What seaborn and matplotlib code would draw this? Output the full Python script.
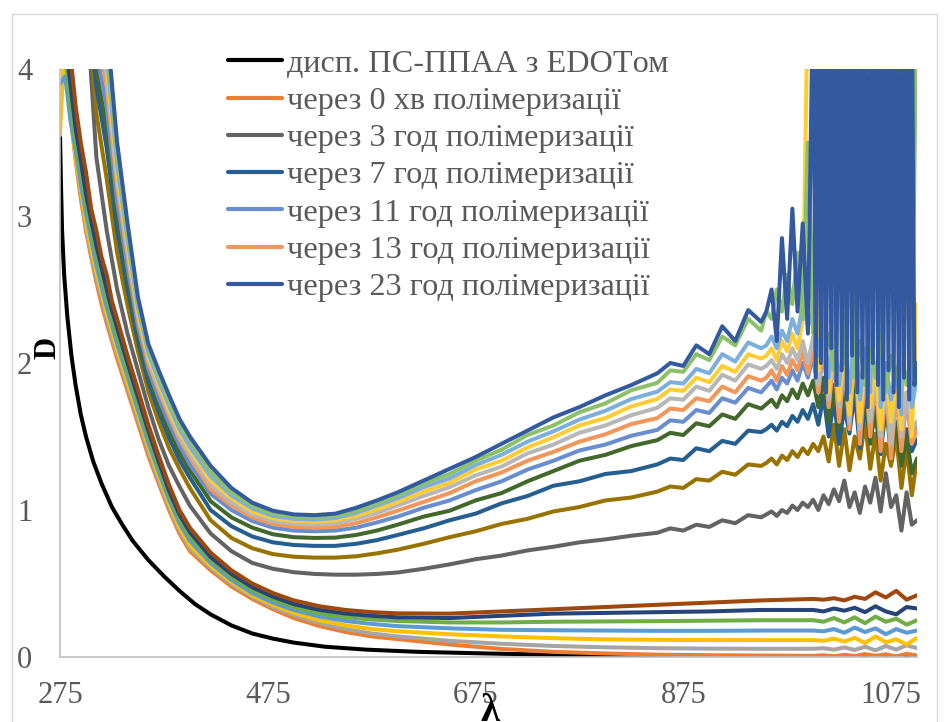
import matplotlib
matplotlib.use("Agg")
import matplotlib.pyplot as plt
import pandas as pd
import seaborn as sns
from matplotlib.lines import Line2D
from matplotlib.patches import Rectangle

sns.set_theme(style="white")
plt.rcParams['font.family'] = ['Liberation Serif', 'DejaVu Serif']

# ---------------- data ----------------
X_BLACK = [275, 276, 277, 279, 282, 286, 290, 295, 300, 307, 315, 325, 335, 345, 360, 375, 390, 405,
           420, 440, 460, 480, 500, 530, 570, 620, 680, 750, 820, 900, 1000, 1100]
D_BLACK = [3.55, 3.2, 2.9, 2.6, 2.32, 2.05, 1.85, 1.65, 1.5, 1.33, 1.18, 1.02, 0.9, 0.79, 0.66, 0.55, 0.45, 0.36,
           0.29, 0.215, 0.16, 0.125, 0.098, 0.07, 0.05, 0.035, 0.025, 0.015, 0.008, 0.004, 0.002, 0.002]

X_LOW = [275, 280, 285, 290, 295, 300, 305, 310, 315, 320, 325, 330, 340, 350, 360, 370, 380, 390, 400,
         420, 440, 460, 480, 500, 525, 550, 575, 600, 650, 700, 750, 800, 850, 900, 950,
         1000, 1010, 1020, 1030, 1040, 1050, 1060, 1070, 1080, 1090, 1100]

D_ORANGE = [4.4, 4.1, 3.7, 3.38, 3.12, 2.9, 2.72, 2.55, 2.4, 2.27, 2.15, 2.03, 1.81, 1.59, 1.37, 1.18, 1.0, 0.84, 0.72,
            0.59, 0.48, 0.395, 0.325, 0.265, 0.21, 0.17, 0.14, 0.122, 0.085, 0.055, 0.035, 0.024, 0.016, 0.012, 0.01,
            0.008, 0.012, 0.005, 0.015, 0.006, 0.02, 0.008, 0.018, 0.004, 0.022, 0.01]
D_GRAY = [4.3, 4.5, 3.85, 3.45, 3.15, 2.92, 2.74, 2.58, 2.44, 2.3, 2.18, 2.06, 1.84, 1.62, 1.4, 1.2, 1.02, 0.86, 0.74,
          0.605, 0.495, 0.41, 0.34, 0.285, 0.23, 0.19, 0.16, 0.14, 0.11, 0.09, 0.075, 0.066, 0.06, 0.057, 0.056,
          0.056, 0.06, 0.05, 0.065, 0.048, 0.07, 0.045, 0.075, 0.05, 0.08, 0.06]
D_GOLD = [3.55, 4.3, 3.7, 3.4, 3.18, 2.96, 2.78, 2.62, 2.48, 2.34, 2.22, 2.09, 1.87, 1.65, 1.43, 1.23, 1.04, 0.88, 0.76,
          0.62, 0.51, 0.42, 0.355, 0.3, 0.25, 0.215, 0.19, 0.175, 0.155, 0.14, 0.128, 0.12, 0.117, 0.115, 0.115,
          0.115, 0.11, 0.125, 0.105, 0.13, 0.095, 0.14, 0.1, 0.12, 0.085, 0.13]
D_LBLUE = [3.9, 3.95, 3.65, 3.45, 3.22, 3.02, 2.84, 2.67, 2.52, 2.38, 2.26, 2.13, 1.91, 1.68, 1.46, 1.26, 1.07, 0.91, 0.79,
           0.64, 0.525, 0.435, 0.37, 0.32, 0.275, 0.245, 0.225, 0.21, 0.195, 0.185, 0.182, 0.18, 0.178, 0.178, 0.18,
           0.18, 0.175, 0.19, 0.165, 0.2, 0.17, 0.195, 0.155, 0.19, 0.165, 0.18]
D_GREEN = [4.3, 4.1, 3.75, 3.5, 3.3, 3.08, 2.9, 2.74, 2.58, 2.44, 2.3, 2.18, 1.95, 1.72, 1.5, 1.29, 1.1, 0.94, 0.82,
           0.66, 0.545, 0.455, 0.39, 0.34, 0.295, 0.27, 0.255, 0.245, 0.235, 0.235, 0.24, 0.242, 0.244, 0.247, 0.25,
           0.25, 0.24, 0.265, 0.235, 0.27, 0.23, 0.275, 0.24, 0.26, 0.22, 0.25]
D_DBLUE = [4.5, 4.2, 3.9, 3.6, 3.38, 3.15, 2.97, 2.8, 2.65, 2.5, 2.36, 2.24, 2.0, 1.77, 1.54, 1.33, 1.13, 0.97, 0.85,
           0.68, 0.565, 0.475, 0.41, 0.36, 0.32, 0.295, 0.28, 0.27, 0.265, 0.28, 0.295, 0.3, 0.305, 0.31, 0.32,
           0.32, 0.31, 0.33, 0.315, 0.335, 0.305, 0.345, 0.31, 0.29, 0.34, 0.33]
D_BROWN = [4.6, 4.4, 4.1, 3.75, 3.5, 3.3, 3.05, 2.9, 2.72, 2.6, 2.42, 2.3, 2.05, 1.82, 1.58, 1.37, 1.17, 1.0, 0.88,
           0.71, 0.59, 0.5, 0.435, 0.385, 0.345, 0.32, 0.305, 0.297, 0.295, 0.31, 0.325, 0.34, 0.355, 0.37, 0.385,
           0.395, 0.39, 0.4, 0.385, 0.41, 0.395, 0.44, 0.405, 0.45, 0.39, 0.42]

X_UP = [300, 310, 320, 330, 340, 350, 360, 370, 380, 390, 400,
        420, 440, 460, 480, 500, 520, 540, 560, 580, 600,
        625, 650, 675, 700, 725, 750, 775, 800, 825,
        850, 862.5, 875, 887.5, 900, 912.5, 925, 937.5, 950,
        955, 960, 965, 970, 975, 980, 985, 990, 995, 1000, 1005, 1010, 1015, 1020, 1025,
        1030, 1035, 1040, 1045, 1050, 1055, 1060, 1065, 1070, 1075, 1080, 1085, 1090, 1095, 1100]

D_DGRAY = [4.5, 3.4, 2.9, 2.5, 2.2, 1.95, 1.7, 1.48, 1.3, 1.16, 1.03,
           0.84, 0.72, 0.64, 0.6, 0.577, 0.565, 0.56, 0.56, 0.565, 0.575,
           0.6, 0.63, 0.665, 0.69, 0.725, 0.75, 0.78, 0.8, 0.825,
           0.845, 0.875, 0.86, 0.9, 0.885, 0.93, 0.91, 0.965, 0.95,
           0.97, 0.99, 0.96, 1.0, 0.98, 1.03, 1.0, 1.05, 1.02, 1.07, 1.0, 1.1, 1.04, 1.14, 1.06,
           1.2, 1.02, 1.12, 0.98, 1.16, 1.05, 1.22, 0.99, 1.25, 1.02, 1.1, 0.86, 1.12, 0.9, 0.93]
D_DGOLD = [4.55, 3.7, 3.25, 2.75, 2.39, 2.08, 1.81, 1.6, 1.42, 1.28, 1.15,
           0.93, 0.81, 0.74, 0.7, 0.682, 0.676, 0.676, 0.685, 0.705, 0.73,
           0.77, 0.815, 0.855, 0.905, 0.94, 0.99, 1.02, 1.065, 1.085,
           1.125, 1.16, 1.15, 1.21, 1.2, 1.26, 1.24, 1.31, 1.3,
           1.32, 1.35, 1.31, 1.37, 1.34, 1.4, 1.36, 1.42, 1.38, 1.45, 1.4, 1.5, 1.33, 1.58, 1.3,
           1.55, 1.27, 1.5, 1.35, 1.6, 1.28, 1.52, 1.2, 1.45, 1.3, 1.5, 1.15, 1.42, 1.1, 1.35]
D_DLBLUE = [4.58, 3.88, 3.46, 2.9, 2.5, 2.15, 1.87, 1.67, 1.49, 1.34, 1.22,
            1.0, 0.89, 0.82, 0.78, 0.762, 0.756, 0.756, 0.77, 0.795, 0.83,
            0.875, 0.93, 0.975, 1.045, 1.095, 1.165, 1.195, 1.245, 1.265,
            1.31, 1.35, 1.34, 1.42, 1.4, 1.47, 1.45, 1.54, 1.53,
            1.55, 1.58, 1.54, 1.6, 1.57, 1.64, 1.6, 1.68, 1.62, 1.72, 1.58, 1.78, 1.5, 1.75, 1.45,
            1.7, 1.52, 1.8, 1.42, 1.72, 1.5, 1.65, 1.38, 1.7, 1.45, 1.6, 1.35, 1.55, 1.4, 1.48]
D_DGREEN = [4.6, 4.0, 3.6, 3.0, 2.58, 2.2, 1.92, 1.72, 1.54, 1.39, 1.27,
            1.06, 0.95, 0.88, 0.835, 0.815, 0.81, 0.812, 0.83, 0.86, 0.9,
            0.955, 0.995, 1.065, 1.115, 1.195, 1.265, 1.335, 1.375, 1.435,
            1.475, 1.525, 1.51, 1.59, 1.57, 1.65, 1.62, 1.72, 1.69,
            1.72, 1.75, 1.7, 1.78, 1.74, 1.82, 1.76, 1.86, 1.78, 1.88, 1.7, 1.9, 1.6, 1.85, 1.55,
            1.8, 1.62, 1.88, 1.5, 1.78, 1.45, 1.7, 1.4, 1.75, 1.35, 1.6, 1.3, 1.5, 1.25, 1.35]
D_LTBLUE = [4.62, 4.12, 3.74, 3.1, 2.65, 2.25, 1.96, 1.76, 1.59, 1.44, 1.31,
            1.11, 1.0, 0.925, 0.88, 0.86, 0.855, 0.86, 0.88, 0.915, 0.955,
            1.015, 1.065, 1.135, 1.195, 1.275, 1.335, 1.405, 1.445, 1.505,
            1.545, 1.61, 1.6, 1.68, 1.66, 1.76, 1.73, 1.83, 1.8,
            1.84, 1.88, 1.82, 1.9, 1.86, 1.95, 1.88, 2.0, 1.9, 2.05, 1.8, 2.1, 1.7, 2.05, 1.65,
            1.95, 1.6, 2.1, 1.55, 1.9, 1.6, 2.0, 1.5, 1.95, 1.55, 1.85, 1.45, 1.8, 1.5, 1.6]
D_LTORANGE = [4.64, 4.24, 3.88, 3.2, 2.73, 2.3, 2.0, 1.81, 1.64, 1.48, 1.36,
              1.14, 1.03, 0.95, 0.905, 0.885, 0.88, 0.885, 0.91, 0.95, 0.995,
              1.055, 1.115, 1.195, 1.255, 1.335, 1.395, 1.465, 1.515, 1.585,
              1.625, 1.69, 1.68, 1.76, 1.74, 1.84, 1.8, 1.91, 1.88,
              1.9, 1.95, 1.88, 1.98, 1.92, 2.02, 1.95, 2.08, 1.93, 2.1, 1.8, 2.15, 1.7, 2.05, 1.6,
              2.0, 1.55, 2.1, 1.45, 1.95, 1.5, 1.9, 1.4, 1.85, 1.35, 1.8, 1.4, 1.75, 1.45, 1.55]
D_LTGRAY = [4.65, 4.3, 3.95, 3.25, 2.76, 2.33, 2.02, 1.83, 1.66, 1.5, 1.38,
            1.17, 1.05, 0.97, 0.925, 0.905, 0.9, 0.91, 0.94, 0.98, 1.03,
            1.095, 1.155, 1.235, 1.295, 1.385, 1.445, 1.525, 1.575, 1.645,
            1.695, 1.76, 1.75, 1.84, 1.81, 1.92, 1.88, 1.99, 1.96,
            1.98, 2.02, 1.96, 2.06, 2.0, 2.1, 2.02, 2.15, 2.0, 2.18, 1.85, 2.2, 1.75, 2.1, 1.7,
            2.05, 1.6, 2.15, 1.55, 2.0, 1.6, 1.95, 1.5, 1.9, 1.45, 1.85, 1.5, 1.8, 1.55, 1.6]
D_LTGOLD = [4.66, 4.36, 4.02, 3.3, 2.8, 2.35, 2.05, 1.86, 1.68, 1.53, 1.41,
            1.2, 1.08, 0.99, 0.945, 0.925, 0.92, 0.93, 0.96, 1.005, 1.055,
            1.125, 1.185, 1.275, 1.335, 1.425, 1.495, 1.575, 1.625, 1.705,
            1.755, 1.82, 1.81, 1.9, 1.87, 1.98, 1.94, 2.06, 2.03,
            2.05, 2.1, 2.02, 2.15, 2.08, 2.2, 2.1, 2.3, 4.6, 4.6, 1.95, 2.25, 1.8, 2.15, 1.75,
            2.1, 1.65, 2.2, 1.6, 2.05, 1.7, 2.0, 1.55, 1.95, 1.6, 1.9, 1.55, 2.9, 1.5, 2.4]
D_SKY = [4.67, 4.42, 4.09, 3.35, 2.84, 2.38, 2.07, 1.88, 1.71, 1.55, 1.43,
         1.23, 1.1, 1.01, 0.96, 0.94, 0.935, 0.945, 0.98, 1.03, 1.08,
         1.155, 1.215, 1.305, 1.375, 1.465, 1.535, 1.615, 1.675, 1.755,
         1.805, 1.87, 1.86, 1.96, 1.93, 2.06, 2.01, 2.14, 2.1,
         2.12, 2.18, 2.1, 2.22, 2.15, 2.3, 2.2, 2.4, 2.25, 2.35, 2.05, 2.3, 1.9, 2.2, 1.85,
         2.15, 1.8, 2.25, 1.75, 2.1, 1.8, 4.6, 1.7, 2.0, 1.75, 1.95, 1.65, 4.6, 1.7, 1.9]
D_LTGREEN = [4.68, 4.5, 4.19, 3.42, 2.89, 2.41, 2.1, 1.91, 1.74, 1.58, 1.47,
             1.26, 1.12, 1.03, 0.975, 0.955, 0.95, 0.96, 0.995, 1.045, 1.1,
             1.18, 1.245, 1.335, 1.41, 1.51, 1.575, 1.665, 1.725, 1.815,
             1.865, 1.95, 1.94, 2.06, 2.02, 2.18, 2.12, 2.3, 2.22,
             2.35, 2.3, 2.5, 2.35, 2.6, 2.4, 2.75, 2.3, 3.5, 2.2, 4.6, 2.0, 2.2, 1.95, 4.6,
             2.0, 4.6, 1.9, 2.15, 1.85, 2.1, 1.9, 2.2, 1.8, 2.05, 1.9, 2.1, 1.85, 2.0, 4.6]

X_BLUE = [300, 310, 320, 330, 340, 350, 360, 370, 380, 390, 400,
          420, 440, 460, 480, 500, 520, 540, 560, 580, 600,
          625, 650, 675, 700, 725, 750, 775, 800, 825,
          850, 862.5, 875, 887.5, 900, 912.5, 925, 937.5, 950,
          955, 960, 965, 970, 975, 980, 985, 990, 995,
          1000, 1002.5, 1005, 1007.5, 1010, 1012.5, 1015, 1017.5, 1020, 1022.5,
          1025, 1027.5, 1030, 1032.5, 1035, 1037.5, 1040, 1042.5, 1045, 1047.5,
          1050, 1052.5, 1055, 1057.5, 1060, 1062.5, 1065, 1067.5, 1070, 1072.5,
          1075, 1077.5, 1080, 1082.5, 1085, 1087.5, 1090, 1092.5, 1095, 1097.5, 1100]
D_BLUE = [4.7, 4.6, 4.3, 3.5, 2.95, 2.45, 2.13, 1.95, 1.78, 1.62, 1.5,
          1.3, 1.15, 1.05, 0.995, 0.97, 0.965, 0.975, 1.015, 1.065, 1.12,
          1.2, 1.28, 1.36, 1.45, 1.54, 1.63, 1.7, 1.78, 1.85,
          1.93, 2.0, 1.98, 2.12, 2.06, 2.25, 2.15, 2.36, 2.28,
          2.35, 2.5, 2.15, 2.85, 2.3, 3.05, 2.35, 2.95, 2.2,
          4.6, 1.9, 4.6, 2.0, 4.6, 1.8, 4.6, 2.1, 4.6, 1.85,
          4.6, 1.95, 4.6, 1.75, 4.6, 2.05, 4.6, 1.8, 4.6, 1.9,
          4.6, 1.7, 4.6, 2.0, 4.6, 1.85, 4.6, 1.75, 4.6, 1.95,
          4.6, 1.8, 4.6, 1.7, 4.6, 1.9, 4.6, 1.75, 4.6, 1.85, 2.0]

SERIES = [
    ("дисп. ПС-ППАА з EDOTом", "#000000", X_BLACK, D_BLACK),
    ("через 0 хв полімеризації", "#ED7D31", X_LOW, D_ORANGE),
    ("s3", "#A5A5A5", X_LOW, D_GRAY),
    ("s4", "#FFC000", X_LOW, D_GOLD),
    ("s5", "#5B9BD5", X_LOW, D_LBLUE),
    ("s6", "#70AD47", X_LOW, D_GREEN),
    ("s7", "#264478", X_LOW, D_DBLUE),
    ("s8", "#9E480E", X_LOW, D_BROWN),
    ("через 3 год полімеризації", "#636363", X_UP, D_DGRAY),
    ("s10", "#997300", X_UP, D_DGOLD),
    ("через 7 год полімеризації", "#255E91", X_UP, D_DLBLUE),
    ("s12", "#43682B", X_UP, D_DGREEN),
    ("через 11 год полімеризації", "#698ED0", X_UP, D_LTBLUE),
    ("через 13 год полімеризації", "#F1975A", X_UP, D_LTORANGE),
    ("s15", "#B7B7B7", X_UP, D_LTGRAY),
    ("s16", "#FFCD33", X_UP, D_LTGOLD),
    ("s17", "#7CAFDD", X_UP, D_SKY),
    ("s18", "#8CC168", X_UP, D_LTGREEN),
    ("через 23 год полімеризації", "#335AA1", X_BLUE, D_BLUE),
]
LEGEND_NAMES = ["дисп. ПС-ППАА з EDOTом", "через 0 хв полімеризації", "через 3 год полімеризації",
                "через 7 год полімеризації", "через 11 год полімеризації", "через 13 год полімеризації",
                "через 23 год полімеризації"]

frames = []
for name, color, xs, ys in SERIES:
    assert len(xs) == len(ys), (name, len(xs), len(ys))
    frames.append(pd.DataFrame({"lam": xs, "D": ys, "series": name}))
df = pd.concat(frames, ignore_index=True)
names = [s[0] for s in SERIES]
palette = {s[0]: s[1] for s in SERIES}

W, H = 950, 722
fig = plt.figure(figsize=(W / 100, H / 100), dpi=100)
ax = fig.add_axes([60 / W, (H - 657) / H, (917 - 60) / W, (657 - 69) / H])

sns.lineplot(data=df, x="lam", y="D", hue="series", hue_order=names, palette=palette,
             estimator=None, sort=False, legend=False, lw=2.9, ax=ax,
             solid_joinstyle="round", solid_capstyle="round")

ax.set_xlim(275, 1100)
ax.set_ylim(0, 4)
ax.set_xticks([275, 475, 675, 875, 1075])
ax.set_yticks([0, 1, 2, 3, 4])
ax.set_xlabel("")
ax.set_ylabel("")
for side in ["top", "right"]:
    ax.spines[side].set_visible(False)
for side in ["left", "bottom"]:
    ax.spines[side].set_color("#BFBFBF")
    ax.spines[side].set_linewidth(1.2)
ax.tick_params(axis="both", direction="in", length=7, width=1, color="#BFBFBF",
               labelsize=22, labelcolor="#595959")
ax.tick_params(axis="y", pad=20)
ax.tick_params(axis="x", pad=17)

handles = [Line2D([0], [0], color=palette[n], lw=3.0) for n in LEGEND_NAMES]
ax.legend(handles, LEGEND_NAMES, loc="upper left", bbox_to_anchor=(228 / W, 1 - 49 / H),
          bbox_transform=fig.transFigure, frameon=False, fontsize=23.2, labelcolor="#595959",
          handlelength=1.68, handletextpad=0.15, labelspacing=0.24, borderpad=0, borderaxespad=0)

fig.text(48 / W, 1 - 348 / H, "D", rotation=90, fontsize=22, fontweight="bold",
         ha="center", va="center", color="black")
fig.text(490 / W, 1 - 693 / H, "λ", fontsize=28, fontweight="bold",
         ha="center", va="top", color="black")

fig.patches.append(Rectangle((12 / W, -0.05), (937 - 12) / W, (H - 14) / H + 0.05,
                             transform=fig.transFigure, fill=False, edgecolor="#D9D9D9", lw=1))

fig.savefig("out.png", dpi=100)
